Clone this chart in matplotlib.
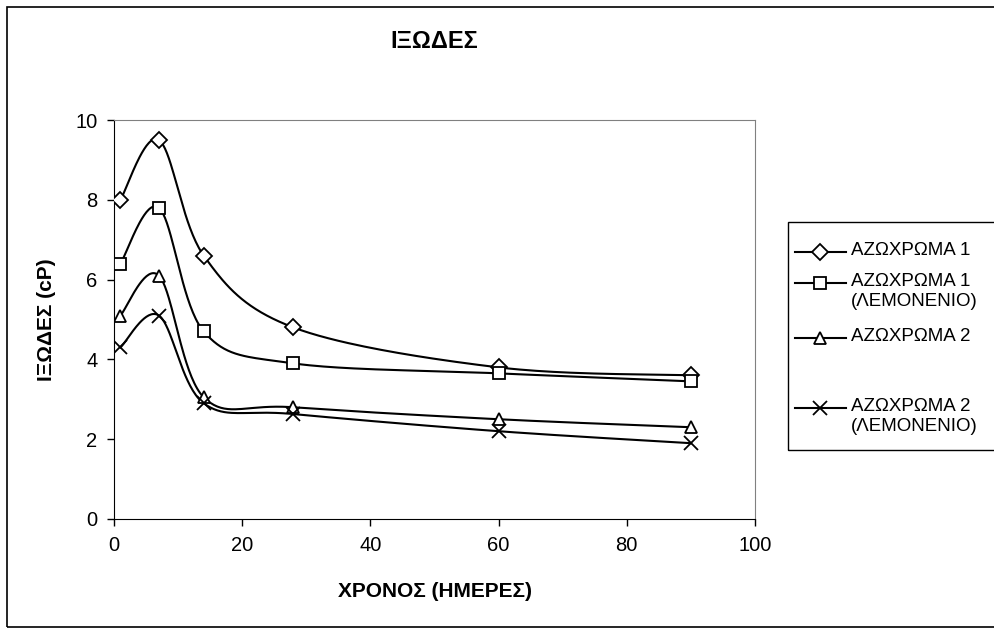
import numpy as np
import matplotlib.pyplot as plt
from matplotlib.lines import Line2D
from matplotlib.patches import Rectangle

plt.rcParams['font.family'] = ['Liberation Sans', 'DejaVu Sans']

# sampling days and viscosity readings (cP)
days = [1, 7, 14, 28, 60, 90]
azo1 = [8.0, 9.5, 6.6, 4.8, 3.8, 3.6]
azo1_lemon = [6.4, 7.8, 4.7, 3.9, 3.65, 3.45]
azo2 = [5.1, 6.1, 3.05, 2.8, 2.5, 2.3]
azo2_lemon = [4.3, 5.1, 2.9, 2.63, 2.2, 1.9]

labels = ['ΑΖΩΧΡΩΜΑ 1', 'ΑΖΩΧΡΩΜΑ 1\n(ΛΕΜΟΝΕΝΙΟ)',
          'ΑΖΩΧΡΩΜΑ 2', 'ΑΖΩΧΡΩΜΑ 2\n(ΛΕΜΟΝΕΝΙΟ)']
markers = ['D', 's', '^', 'x']
msizes = [8, 8, 9, 10]

W, H = 995, 634


def smooth(x, y, n=40):
    """Spreadsheet-style smoothed line: cubic Bezier segments with
    Catmull-Rom control points."""
    x = np.asarray(x, float)
    y = np.asarray(y, float)
    px = np.concatenate([[x[0]], x, [x[-1]]])
    py = np.concatenate([[y[0]], y, [y[-1]]])
    xs, ys = [], []
    t = np.linspace(0, 1, n)
    for i in range(1, len(px) - 2):
        p0 = np.array([px[i], py[i]])
        p3 = np.array([px[i + 1], py[i + 1]])
        p1 = p0 + (np.array([px[i + 1], py[i + 1]]) - np.array([px[i - 1], py[i - 1]])) / 6
        p2 = p3 - (np.array([px[i + 2], py[i + 2]]) - np.array([px[i], py[i]])) / 6
        b = ((1 - t) ** 3)[:, None] * p0 + (3 * (1 - t) ** 2 * t)[:, None] * p1 \
            + (3 * (1 - t) * t ** 2)[:, None] * p2 + (t ** 3)[:, None] * p3
        xs.append(b[:, 0])
        ys.append(b[:, 1])
    return np.concatenate(xs), np.concatenate(ys)


fig = plt.figure(figsize=(W / 100, H / 100), dpi=100)
ax = fig.add_axes([114 / W, 1 - 519 / H, (755 - 114) / W, (519 - 120) / H])

for vals, m, ms in zip([azo1, azo1_lemon, azo2, azo2_lemon], markers, msizes):
    sx, sy = smooth(days, vals)
    ax.plot(sx, sy, color='black', lw=1.5, zorder=2)
    ax.plot(days, vals, linestyle='none', marker=m, ms=ms, mfc='white',
            mec='black', mew=1.3, zorder=3)

ax.set_xlim(0, 100)
ax.set_ylim(0, 10)
ax.set_xticks(range(0, 101, 20))
ax.set_yticks(range(0, 11, 2))
ax.tick_params(direction='out', length=5, width=1, labelsize=14.5, pad=7)
for s in ['top', 'right']:
    ax.spines[s].set_color('#808080')
for s in ['left', 'bottom']:
    ax.spines[s].set_color('black')

ax.set_xlabel('ΧΡΟΝΟΣ (ΗΜΕΡΕΣ)', fontsize=15, fontweight='bold', labelpad=20)
ax.set_ylabel('ΙΞΩΔΕΣ (cP)', fontsize=15, fontweight='bold', labelpad=14)
fig.text((114 + 755) / 2 / W, 1 - 42 / H, 'ΙΞΩΔΕΣ', fontsize=17,
         fontweight='bold', ha='center', va='center')

# outer chart frame (extends past the right edge)
fig.patches.append(Rectangle((7 / W, 1 - 627 / H), 1.2, (627 - 7) / H,
                             transform=fig.transFigure, fill=False,
                             edgecolor='black', lw=1.2))

# legend box with hand-placed entries
fig.patches.append(Rectangle((788 / W, 1 - 450 / H), 1.0, (450 - 222) / H,
                             transform=fig.transFigure, fill=False,
                             edgecolor='black', lw=1.0))
entry_y = [252, 283, 338, 408]
for lab, m, ms, yy in zip(labels, markers, msizes, entry_y):
    yf = 1 - yy / H
    fig.lines.append(Line2D([795 / W, 846 / W], [yf, yf], transform=fig.transFigure,
                            color='black', lw=1.5))
    fig.lines.append(Line2D([820 / W], [yf], transform=fig.transFigure,
                            marker=m, ms=ms, mfc='white', mec='black', mew=1.3))
    fig.text(851 / W, yf + 10 / H, lab, fontsize=13.5, ha='left', va='top',
             linespacing=1.2)

fig.savefig('out.png', dpi=100)
